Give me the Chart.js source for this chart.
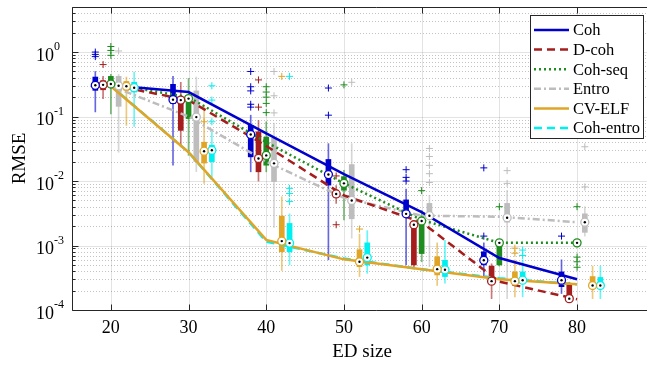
<!DOCTYPE html>
<html>
<head>
<meta charset="utf-8">
<script src="https://cdn.jsdelivr.net/npm/chart.js@4.4.1/dist/chart.umd.min.js"></script>
<style>
  html, body { margin: 0; padding: 0; background: #fff; overflow: hidden; width: 647px; height: 366px; }
  canvas { display: block; }
</style>
</head>
<body>
<!-- canvas is wider than the window: the axes box continues past the right edge, as in the figure -->
<canvas id="chart" width="680" height="366"></canvas>
<script>
// ED sizes (x positions of the mean lines); boxes sit at size + offset
const edSizes = [20, 30, 40, 50, 60, 70, 80];
const xTicks = [20, 30, 40, 50, 60, 70, 80];
const yDecades = [-4, -3, -2, -1, 0];

// line values per method, one per ED size
const cohLine = [0.305, 0.24, 0.055, 0.0128, 0.0033, 0.00064, 0.0003];
const dcohLine = [0.31, 0.18, 0.035, 0.006, 0.0023, 0.000275, 0.000147];
const cohseqLine = [0.32, 0.2, 0.04, 0.0092, 0.0025, 0.0011, 0.0011];
const entroLine = [0.30, 0.10, 0.02, 0.0055, 0.0029, 0.0028, 0.0023];
const cvelfLine = [0.295, 0.028, 0.00122, 0.00061, 0.00043, 0.0003, 0.00025];
const cohentroLine = [0.30, 0.028, 0.00115, 0.00063, 0.00043, 0.00031, 0.00025];

// box stats: [whisker low, q1, median, q3, whisker high]
const cohBox = [
  [0.118, 0.255, 0.305, 0.41, 0.5], [0.0176, 0.159, 0.183, 0.316, 0.42],
  [0.0139, 0.0237, 0.0527, 0.073, 0.105], [0.0006, 0.00865, 0.0126, 0.0216, 0.038],
  [0.0005, 0.0028, 0.0031, 0.0051, 0.0075], [0.00033, 0.0005, 0.00059, 0.0008, 0.0011],
  [0.00018, 0.00023, 0.00029, 0.00039, 0.0006]];
const dcohBox = [
  [0.19, 0.26, 0.31, 0.36, 0.42], [0.034, 0.061, 0.18, 0.19, 0.34],
  [0.01, 0.0139, 0.0224, 0.058, 0.087], [0.0045, 0.0056, 0.0063, 0.0072, 0.0085],
  [0.00045, 0.0005, 0.0021, 0.0022, 0.0024], [0.00015, 0.00028, 0.00028, 0.00048, 0.00052],
  [0.00013, 0.00015, 0.00015, 0.00025, 0.00027]];
const cohseqBox = [
  [0.11, 0.29, 0.32, 0.42, 0.45], [0.025, 0.093, 0.19, 0.19, 0.39],
  [0.0139, 0.0176, 0.025, 0.048, 0.083], [0.0025, 0.0072, 0.0092, 0.0117, 0.0147],
  [0.00056, 0.00075, 0.0024, 0.0025, 0.0035], [0.00048, 0.0005, 0.0011, 0.0011, 0.0012],
  [0.00095, 0.001, 0.0011, 0.00115, 0.0012]];
const entroBox = [
  [0.028, 0.144, 0.30, 0.42, 0.45], [0.014, 0.02, 0.098, 0.25, 0.41],
  [0.0019, 0.0098, 0.0188, 0.046, 0.079], [0.0013, 0.0026, 0.005, 0.018, 0.038],
  [0.00047, 0.0028, 0.0029, 0.0045, 0.006], [0.00015, 0.0023, 0.0027, 0.0045, 0.0072],
  [0.0014, 0.0016, 0.0023, 0.0031, 0.004]];
const cvelfBox = [
  [0.073, 0.255, 0.295, 0.35, 0.41], [0.0092, 0.019, 0.029, 0.04, 0.15],
  [0.00041, 0.0008, 0.00117, 0.00286, 0.0057], [0.00033, 0.00047, 0.00056, 0.00086, 0.0015],
  [0.00024, 0.00035, 0.00043, 0.00067, 0.0011], [0.00016, 0.00029, 0.00028, 0.00039, 0.0006],
  [0.00015, 0.00024, 0.00024, 0.00033, 0.00048]];
const cohentroBox = [
  [0.07, 0.24, 0.28, 0.34, 0.49], [0.0116, 0.02, 0.03, 0.036, 0.058],
  [0.0005, 0.0008, 0.00109, 0.0022, 0.0031], [0.00037, 0.0005, 0.00065, 0.0011, 0.0017],
  [0.00026, 0.00033, 0.00042, 0.00059, 0.0012], [0.00016, 0.00029, 0.00029, 0.00039, 0.0006],
  [0.00015, 0.00026, 0.00024, 0.00032, 0.00048]];

// outliers per ED size
const cohOut = [[1.0, 0.92, 0.85], [], [0.5, 0.29, 0.25, 0.155, 0.14], [0.277, 0.105], [0.015, 0.0114, 0.01], [0.016, 0.0014], [0.0014]];
const dcohOut = [[0.64], [], [0.37, 0.14], [0.012, 0.0021], [], [], []];
const cohseqOut = [[1.22, 1.06, 0.89], [], [0.29, 0.24, 0.2, 0.16, 0.115], [0.31], [0.0071], [0.004], [0.004, 0.00066, 0.00056, 0.00046]];
const entroOut = [[1.04], [], [0.5, 0.21, 0.114], [0.34], [0.032, 0.024, 0.0175, 0.013, 0.0095], [0.0145, 0.0092], [0.034, 0.0081]];
const cvelfOut = [[], [0.083], [0.42], [0.0018], [], [0.00091, 0.00076], []];
const cohentroOut = [[], [0.30, 0.18, 0.083], [0.42, 0.0077, 0.0064, 0.0048], [], [], [0.00085, 0.0007], []];

const series = [
  { name: 'Coh', color: '#0000cd', dash: [], line: cohLine, box: cohBox, out: cohOut, offset: -2 },
  { name: 'D-coh', color: '#a51d1d', dash: [8, 5], line: dcohLine, box: dcohBox, out: dcohOut, offset: -1 },
  { name: 'Coh-seq', color: '#1e8c1e', dash: [2, 3], line: cohseqLine, box: cohseqBox, out: cohseqOut, offset: 0 },
  { name: 'Entro', color: '#bdbdbd', dash: [7, 3, 2, 3], line: entroLine, box: entroBox, out: entroOut, offset: 1 },
  { name: 'CV-ELF', color: '#e0a526', dash: [], line: cvelfLine, box: cvelfBox, out: cvelfOut, offset: 2 },
  { name: 'Coh-entro', color: '#00f0f0', dash: [8, 5], line: cohentroLine, box: cohentroBox, out: cohentroOut, offset: 3 },
];

const AXIS = '#262626';
const SERIF = '"Liberation Serif", "Times New Roman", serif';

const datasets = [];
series.forEach(s => {
  const bx = i => edSizes[i] + s.offset;
  datasets.push({
    type: 'line', label: s.name, order: 3,
    data: edSizes.map((x, i) => ({ x, y: s.line[i] })),
    borderColor: s.color, borderWidth: 2.5, borderDash: s.dash,
    pointRadius: 0, tension: 0, fill: false,
  });
  datasets.push({
    type: 'bar', order: 6, grouped: false, barThickness: 1,
    data: s.box.map((b, i) => ({ x: bx(i), y: [b[0], b[4]] })),
    backgroundColor: s.color + '99', borderWidth: 0,
  });
  datasets.push({
    type: 'bar', order: 5, grouped: false, barThickness: 5,
    data: s.box.map((b, i) => ({ x: bx(i), y: [b[1], b[3]] })),
    backgroundColor: s.color, borderWidth: 0,
  });
  datasets.push({
    type: 'scatter', order: 4,
    data: s.out.flatMap((arr, i) => arr.map(v => ({ x: bx(i), y: v }))),
    pointStyle: 'cross', pointRadius: 3.5, borderColor: s.color, borderWidth: 1,
  });
  datasets.push({
    type: 'scatter', order: 2,
    data: s.box.map((b, i) => ({ x: bx(i), y: b[2] })),
    pointStyle: 'circle', pointRadius: 4, backgroundColor: '#fff',
    borderColor: s.color, borderWidth: 1.3,
  });
  datasets.push({
    type: 'scatter', order: 1,
    data: s.box.map((b, i) => ({ x: bx(i), y: b[2] })),
    pointStyle: 'circle', pointRadius: 1.2, backgroundColor: '#000', borderWidth: 0,
  });
});

// grid, axes, labels and legend drawn MATLAB-style
const matlabAxes = {
  id: 'matlabAxes',
  beforeDraw(chart) {
    const { ctx } = chart;
    ctx.save();
    ctx.fillStyle = '#fff';
    ctx.fillRect(0, 0, chart.width, chart.height);
    ctx.restore();
  },
  beforeDatasetsDraw(chart) {
    const { ctx, chartArea: a, scales: { x, y } } = chart;
    ctx.save();
    ctx.lineWidth = 1;
    // minor dotted grid
    ctx.strokeStyle = 'rgba(38,38,38,0.28)';
    ctx.setLineDash([1, 2]);
    yDecades.forEach(e => {
      for (let k = 2; k <= 9; k++) {
        const v = k * Math.pow(10, e);
        if (v > y.max) continue;
        const py = Math.round(y.getPixelForValue(v)) + 0.5;
        ctx.beginPath(); ctx.moveTo(a.left, py); ctx.lineTo(a.right, py); ctx.stroke();
      }
    });
    // major grid
    ctx.setLineDash([]);
    ctx.strokeStyle = 'rgba(38,38,38,0.13)';
    yDecades.forEach(e => {
      const py = Math.round(y.getPixelForValue(Math.pow(10, e))) + 0.5;
      ctx.beginPath(); ctx.moveTo(a.left, py); ctx.lineTo(a.right, py); ctx.stroke();
    });
    xTicks.forEach(t => {
      const px = Math.round(x.getPixelForValue(t)) + 0.5;
      ctx.beginPath(); ctx.moveTo(px, a.top); ctx.lineTo(px, a.bottom); ctx.stroke();
    });
    ctx.restore();
  },
  afterDraw(chart) {
    const { ctx, chartArea: a, scales: { x, y } } = chart;
    ctx.save();
    ctx.strokeStyle = AXIS;
    ctx.lineWidth = 1;
    const L = Math.round(a.left) + 0.5, B = Math.round(a.bottom) + 0.5, T = Math.round(a.top) + 0.5;
    ctx.beginPath();
    ctx.moveTo(a.right, T); ctx.lineTo(L, T); ctx.lineTo(L, B); ctx.lineTo(a.right, B);
    ctx.stroke();
    // ticks
    xTicks.forEach(t => {
      const px = Math.round(x.getPixelForValue(t)) + 0.5;
      ctx.beginPath(); ctx.moveTo(px, B); ctx.lineTo(px, B - 6); ctx.stroke();
      ctx.beginPath(); ctx.moveTo(px, T); ctx.lineTo(px, T + 6); ctx.stroke();
    });
    yDecades.forEach(e => {
      const py = Math.round(y.getPixelForValue(Math.pow(10, e))) + 0.5;
      ctx.beginPath(); ctx.moveTo(L, py); ctx.lineTo(L + 6, py); ctx.stroke();
      for (let k = 2; k <= 9; k++) {
        const v = k * Math.pow(10, e);
        if (v > y.max) continue;
        const pm = Math.round(y.getPixelForValue(v)) + 0.5;
        ctx.beginPath(); ctx.moveTo(L, pm); ctx.lineTo(L + 3, pm); ctx.stroke();
      }
    });
    // tick labels
    ctx.fillStyle = '#000';
    ctx.font = '18px ' + SERIF;
    ctx.textAlign = 'center';
    ctx.textBaseline = 'middle';
    xTicks.forEach(t => ctx.fillText(String(t), x.getPixelForValue(t), 328));
    yDecades.forEach(e => {
      const py = y.getPixelForValue(Math.pow(10, e));
      ctx.font = '18px ' + SERIF;
      ctx.textAlign = 'right';
      ctx.fillText('10', 54, py + 4);
      ctx.font = '12px ' + SERIF;
      ctx.textAlign = 'left';
      ctx.fillText(String(e), 54, py - 5);
    });
    // axis titles
    ctx.font = '19px ' + SERIF;
    ctx.textAlign = 'center';
    ctx.fillText('ED size', 362, 352);
    ctx.translate(20.5, (a.top + a.bottom) / 2);
    ctx.rotate(-Math.PI / 2);
    ctx.fillText('RMSE', 0, 0);
    ctx.restore();

    // legend
    ctx.save();
    ctx.fillStyle = '#fff';
    ctx.fillRect(530.5, 15.5, 113, 123);
    ctx.strokeStyle = AXIS;
    ctx.lineWidth = 1;
    ctx.strokeRect(530.5, 15.5, 113, 123);
    ctx.font = '16.5px ' + SERIF;
    ctx.textAlign = 'left';
    ctx.textBaseline = 'middle';
    series.forEach((s, i) => {
      const ry = 30 + i * 19.6;
      ctx.strokeStyle = s.color;
      ctx.lineWidth = 2.5;
      ctx.setLineDash(s.dash);
      ctx.beginPath(); ctx.moveTo(534, ry); ctx.lineTo(569, ry); ctx.stroke();
      ctx.setLineDash([]);
      ctx.fillStyle = '#000';
      ctx.fillText(s.name, 573, ry + 1);
    });
    ctx.restore();
  },
};

new Chart(document.getElementById('chart'), {
  type: 'line',
  data: { datasets },
  options: {
    responsive: false,
    animation: false,
    events: [],
    layout: { autoPadding: false, padding: { top: 7, right: 0, left: 0, bottom: 0 } },
    plugins: { legend: { display: false }, tooltip: { enabled: false } },
    scales: {
      x: {
        type: 'linear', min: 15, max: 93.25, offset: false,
        grid: { display: false }, border: { display: false },
        ticks: { display: false },
        afterFit: s => { s.height = 56; },
      },
      y: {
        type: 'logarithmic', min: 1e-4, max: 5,
        grid: { display: false }, border: { display: false },
        ticks: { display: false },
        afterFit: s => { s.width = 72; },
      },
    },
  },
  plugins: [matlabAxes],
});
</script>
</body>
</html>
